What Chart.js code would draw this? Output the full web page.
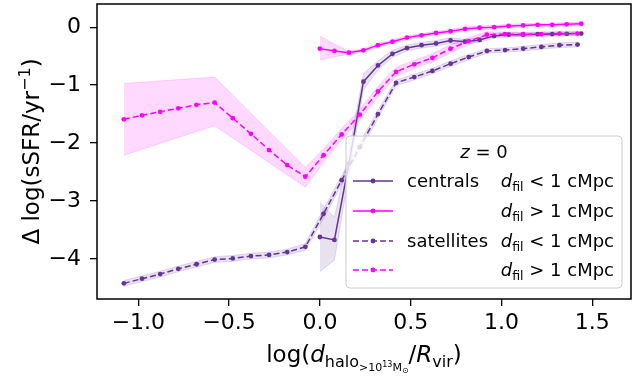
<!DOCTYPE html>
<html>
<head>
<meta charset="utf-8">
<script src="https://cdn.jsdelivr.net/npm/chart.js@4.4.1/dist/chart.umd.min.js"></script>
<style>
  html, body { margin: 0; padding: 0; background: #fff; }
  #wrap { width: 635px; height: 378px; }
</style>
</head>
<body>
<div id="wrap"><canvas id="c" width="635" height="378"></canvas></div>
<script>
// Bin centres (log distance to nearest massive halo, in units of R_vir)
const satX = [-1.08, -0.98, -0.88, -0.78, -0.68, -0.58, -0.48, -0.38, -0.28, -0.18, -0.08, 0.02, 0.12,
              0.22, 0.32, 0.42, 0.52, 0.62, 0.72, 0.82, 0.92, 1.02, 1.12, 1.22, 1.32, 1.42];
const cenX = [0.00, 0.08, 0.16, 0.24, 0.32, 0.40, 0.48, 0.56, 0.64, 0.72, 0.80, 0.88, 0.96, 1.04, 1.12,
              1.20, 1.28, 1.36, 1.44];

// Median Δ log sSFR per bin
const cenNearY = [-3.62, -3.67, -2.35, -0.94, -0.66, -0.46, -0.36, -0.31, -0.28, -0.23, -0.25, -0.22,
                  -0.15, -0.13, -0.13, -0.12, -0.12, -0.115, -0.11];
const cenFarY  = [-0.37, -0.41, -0.44, -0.40, -0.31, -0.25, -0.18, -0.14, -0.10, -0.07, -0.03, -0.01,
                  0.00, 0.02, 0.03, 0.04, 0.04, 0.05, 0.06];
const satNearY = [-4.42, -4.34, -4.26, -4.17, -4.09, -4.01, -3.99, -3.95, -3.93, -3.88, -3.79, -3.22,
                  -2.64, -2.07, -1.50, -0.96, -0.86, -0.755, -0.63, -0.515, -0.41, -0.395, -0.37,
                  -0.34, -0.31, -0.30];
const satFarY  = [-1.59, -1.52, -1.46, -1.40, -1.34, -1.30, -1.57, -1.84, -2.12, -2.38, -2.58, -2.21,
                  -1.85, -1.51, -1.11, -0.77, -0.64, -0.53, -0.37, -0.24, -0.13, -0.12, -0.12, -0.12,
                  -0.11, -0.11];

// Uncertainty envelopes (lower / upper)
const cenNearLo = [-4.22, -4.02, -2.55, -1.08, -0.74, -0.52, -0.41, -0.36, -0.33, -0.28, -0.29, -0.26,
                   -0.19, -0.17, -0.16, -0.15, -0.15, -0.145, -0.14];
const cenNearHi = [-3.02, -3.28, -2.15, -0.80, -0.58, -0.40, -0.31, -0.26, -0.23, -0.18, -0.21, -0.18,
                   -0.11, -0.09, -0.10, -0.09, -0.09, -0.085, -0.08];
const cenFarLo  = [-0.57, -0.51, -0.47, -0.43, -0.34, -0.28, -0.21, -0.17, -0.13, -0.10, -0.06, -0.04,
                   -0.03, -0.01, 0.00, 0.01, 0.01, 0.02, 0.03];
const cenFarHi  = [-0.15, -0.29, -0.41, -0.37, -0.28, -0.22, -0.15, -0.11, -0.07, -0.04, 0.00, 0.02,
                   0.03, 0.05, 0.06, 0.07, 0.07, 0.08, 0.09];
const satNearLo = [-4.47, -4.39, -4.31, -4.22, -4.14, -4.06, -4.04, -4.00, -3.98, -3.93, -3.85, -3.30,
                   -2.72, -2.15, -1.57, -1.01, -0.91, -0.80, -0.68, -0.56, -0.45, -0.43, -0.41, -0.38,
                   -0.35, -0.34];
const satNearHi = [-4.37, -4.29, -4.21, -4.12, -4.04, -3.96, -3.94, -3.90, -3.88, -3.83, -3.73, -3.14,
                   -2.56, -1.99, -1.43, -0.91, -0.81, -0.71, -0.58, -0.47, -0.37, -0.36, -0.33, -0.30,
                   -0.27, -0.26];
const satFarBandX = [-1.08, -0.58, -0.08, 0.02, 0.12, 0.22, 0.32, 0.42, 0.52, 0.62, 0.72, 0.82, 0.92,
                     1.02, 1.12, 1.22, 1.32, 1.42];
const satFarLo  = [-2.21, -1.70, -2.76, -2.33, -1.95, -1.60, -1.20, -0.85, -0.71, -0.60, -0.44, -0.30,
                   -0.18, -0.155, -0.155, -0.155, -0.145, -0.145];
const satFarHi  = [-0.97, -0.86, -2.42, -2.10, -1.75, -1.42, -1.02, -0.69, -0.57, -0.46, -0.30, -0.18,
                   -0.08, -0.085, -0.085, -0.085, -0.075, -0.075];

const xTicks = [-1.0, -0.5, 0.0, 0.5, 1.0, 1.5];
const yTicks = [-4, -3, -2, -1, 0];

const PURPLE = '#663399';
const MAGENTA = '#ff00ff';
const PURPLE_BAND = 'rgba(102,51,153,0.15)';
const MAGENTA_BAND = 'rgba(255,0,255,0.15)';
const FONT = '"DejaVu Sans", "Liberation Sans", sans-serif';

const pts = (xs, ys) => xs.map((x, i) => ({ x: x, y: ys[i] }));

function lineSet(label, xs, ys, color, dashed) {
  return {
    label: label, data: pts(xs, ys), showLine: true, order: 0,
    borderColor: color, backgroundColor: color, borderWidth: 1.5,
    borderDash: dashed ? [6, 3] : [], pointRadius: 2.4, pointBorderWidth: 0,
    pointBackgroundColor: color, fill: false, tension: 0
  };
}
function bandPair(xs, lo, hi, color) {
  const base = { showLine: true, pointRadius: 0, borderWidth: 1, borderColor: color,
                 backgroundColor: color, order: 5, tension: 0 };
  return [
    Object.assign({ data: pts(xs, lo), fill: false }, base),
    Object.assign({ data: pts(xs, hi), fill: '-1' }, base)
  ];
}

const datasets = [
  lineSet('satFar', satX, satFarY, MAGENTA, true),
  lineSet('satNear', satX, satNearY, PURPLE, true),
  lineSet('cenFar', cenX, cenFarY, MAGENTA, false),
  lineSet('cenNear', cenX, cenNearY, PURPLE, false),
  ...bandPair(cenX, cenNearLo, cenNearHi, PURPLE_BAND),
  ...bandPair(cenX, cenFarLo, cenFarHi, MAGENTA_BAND),
  ...bandPair(satX, satNearLo, satNearHi, PURPLE_BAND),
  ...bandPair(satFarBandX, satFarLo, satFarHi, MAGENTA_BAND)
];

const minus = v => (v < 0 ? '\u2212' : '');

function runsWidth(ctx, runs) {
  let w = 0;
  for (const r of runs) { ctx.font = r.f; w += ctx.measureText(r.t).width; }
  return w;
}
function drawRuns(ctx, runs, x, y, align) {
  const w = runsWidth(ctx, runs);
  let cx = align === 'center' ? x - w / 2 : (align === 'right' ? x - w : x);
  ctx.textAlign = 'left';
  ctx.textBaseline = 'alphabetic';
  for (const r of runs) {
    ctx.font = r.f;
    ctx.fillText(r.t, cx, y + (r.dy || 0));
    cx += ctx.measureText(r.t).width;
  }
}
const F = (size, style) => (style ? style + ' ' : '') + size + 'px ' + FONT;

const decorations = {
  id: 'decorations',
  afterDraw(chart) {
    const ctx = chart.ctx;
    const ca = chart.chartArea;
    ctx.save();
    // frame
    ctx.strokeStyle = '#000';
    ctx.lineWidth = 1.5;
    ctx.strokeRect(ca.left, ca.top, ca.right - ca.left, ca.bottom - ca.top);

    ctx.fillStyle = '#000';
    // y-axis title
    ctx.save();
    ctx.translate(39, (ca.top + ca.bottom) / 2);
    ctx.rotate(-Math.PI / 2);
    drawRuns(ctx, [
      { t: '\u0394 log(sSFR/yr', f: F(23) },
      { t: '\u22121', f: F(16), dy: -9 },
      { t: ')', f: F(23) }
    ], 0, 0, 'center');
    ctx.restore();

    // x-axis title
    drawRuns(ctx, [
      { t: 'log(', f: F(23) },
      { t: 'd', f: F(23, 'italic') },
      { t: 'halo', f: F(16), dy: 5 },
      { t: '>10', f: F(11), dy: 9 },
      { t: '13', f: F(8), dy: 5 },
      { t: 'M', f: F(11), dy: 9 },
      { t: '\u2299', f: F(8), dy: 11 },
      { t: '/', f: F(23) },
      { t: 'R', f: F(23, 'italic') },
      { t: 'vir', f: F(16), dy: 5 },
      { t: ')', f: F(23) }
    ], (ca.left + ca.right) / 2, 362, 'center');

    // legend
    const bx = ca.right - 285, by = ca.bottom - 163, bw = 276, bh = 152;
    ctx.beginPath();
    ctx.roundRect(bx, by, bw, bh, 4);
    ctx.fillStyle = 'rgba(255,255,255,0.8)';
    ctx.fill();
    ctx.strokeStyle = '#cccccc';
    ctx.lineWidth = 1;
    ctx.stroke();

    ctx.fillStyle = '#000';
    drawRuns(ctx, [
      { t: 'z', f: F(18, 'italic') },
      { t: ' = 0', f: F(18) }
    ], bx + 138, by + 22, 'center');

    const rows = [
      { prefix: 'centrals', op: '<', color: PURPLE, dashed: false },
      { prefix: '', op: '>', color: MAGENTA, dashed: false },
      { prefix: 'satellites', op: '<', color: PURPLE, dashed: true },
      { prefix: '', op: '>', color: MAGENTA, dashed: true }
    ];
    const rowY = [45, 75, 105, 134];
    rows.forEach((r, i) => {
      const y = by + rowY[i];
      ctx.save();
      ctx.strokeStyle = r.color;
      ctx.lineWidth = 1.5;
      ctx.setLineDash(r.dashed ? [6, 3] : []);
      ctx.beginPath();
      ctx.moveTo(bx + 7, y);
      ctx.lineTo(bx + 47, y);
      ctx.stroke();
      ctx.setLineDash([]);
      ctx.fillStyle = r.color;
      ctx.beginPath();
      ctx.arc(bx + 27, y, 2.4, 0, Math.PI * 2);
      ctx.fill();
      ctx.restore();
      ctx.fillStyle = '#000';
      if (r.prefix) drawRuns(ctx, [{ t: r.prefix, f: F(18) }], bx + 61, y + 6, 'left');
      drawRuns(ctx, [
        { t: 'd', f: F(18, 'italic') },
        { t: 'fil', f: F(12.5), dy: 4 },
        { t: ' ' + r.op + ' 1 cMpc', f: F(18) }
      ], bx + 268, y + 6, 'right');
    });
    ctx.restore();
  }
};

new Chart(document.getElementById('c'), {
  type: 'scatter',
  data: { datasets: datasets },
  options: {
    responsive: false,
    animation: false,
    layout: { padding: { left: 0, right: 1, top: 3, bottom: 0 } },
    plugins: { legend: { display: false }, tooltip: { enabled: false } },
    scales: {
      x: {
        type: 'linear', min: -1.228, max: 1.714,
        afterBuildTicks: s => { s.ticks = xTicks.map(v => ({ value: v })); },
        afterFit: s => { s.height = 79; s.paddingLeft = 0; s.paddingRight = 0; },
        grid: { drawOnChartArea: false, drawTicks: true, tickLength: 7, color: '#000', lineWidth: 1.3 },
        border: { display: false },
        ticks: { color: '#000', font: { family: FONT, size: 22 }, padding: 4,
                 maxRotation: 0, callback: v => minus(v) + Math.abs(v).toFixed(1) }
      },
      y: {
        type: 'linear', min: -4.69, max: 0.40,
        afterBuildTicks: s => { s.ticks = yTicks.map(v => ({ value: v })); },
        afterFit: s => { s.width = 97; s.paddingTop = 0; s.paddingBottom = 0; },
        grid: { drawOnChartArea: false, drawTicks: true, tickLength: 7, color: '#000', lineWidth: 1.3 },
        border: { display: false },
        ticks: { color: '#000', font: { family: FONT, size: 22 }, padding: 9,
                 callback: v => minus(v) + Math.abs(v).toFixed(0) }
      }
    }
  },
  plugins: [decorations]
});
</script>
</body>
</html>
